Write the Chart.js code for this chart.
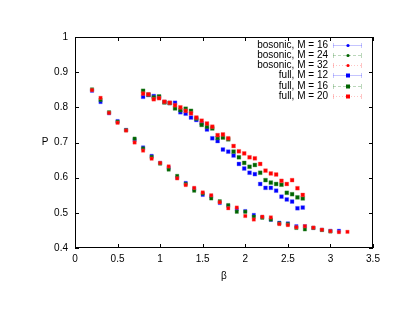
<!DOCTYPE html>
<html>
<head>
<meta charset="utf-8">
<script src="https://cdn.jsdelivr.net/npm/chart.js@4.4.1/dist/chart.umd.min.js"></script>
<style>
  html, body { margin: 0; padding: 0; background: #fff; }
  #wrap { width: 403px; height: 311px; }
</style>
</head>
<body>
<div id="wrap"><canvas id="chart" width="403" height="311"></canvas></div>
<script>
// bosonic runs, beta step 0.1
const betaBosonic = [0.2, 0.3, 0.4, 0.5, 0.6, 0.7, 0.8, 0.9, 1.0, 1.1, 1.2, 1.3, 1.4, 1.5, 1.6,
    1.7, 1.8, 1.9, 2.0, 2.1, 2.2, 2.3, 2.4, 2.5, 2.6, 2.7, 2.8, 2.9, 3.0, 3.1, 3.2];
const bosonicM16 = [0.847, 0.815, 0.783, 0.761, 0.736, 0.707, 0.686, 0.662, 0.642, 0.628, 0.600,
    0.585, 0.568, 0.551, 0.547, 0.528, 0.520, 0.510, 0.505, 0.494, 0.488, 0.480, 0.472, 0.470,
    0.462, 0.462, 0.457, 0.452, 0.449, 0.449, null];
const bosonicM24 = [0.851, 0.821, 0.786, 0.759, 0.735, 0.711, 0.683, 0.659, 0.640, 0.623, 0.605,
    0.582, 0.563, 0.555, 0.541, 0.533, 0.522, 0.503, 0.503, 0.489, 0.486, 0.481, 0.470, 0.468,
    0.457, 0.453, 0.457, 0.451, 0.447, null, null];
const bosonicM32 = [0.849, 0.827, 0.784, 0.756, 0.734, 0.700, 0.677, 0.654, 0.642, 0.632, 0.598,
    0.579, 0.571, 0.558, 0.550, 0.530, 0.513, 0.515, 0.491, 0.481, 0.489, 0.487, 0.468, 0.465,
    0.459, 0.462, 0.458, 0.452, 0.448, 0.445, 0.446];

// full runs, beta step 0.0625
const betaFull = [0.8, 0.8625, 0.925, 0.9875, 1.05, 1.1125, 1.175, 1.2375, 1.3, 1.3625, 1.425,
    1.4875, 1.55, 1.6125, 1.675, 1.7375, 1.8, 1.8625, 1.925, 1.9875, 2.05, 2.1125, 2.175, 2.2375,
    2.3, 2.3625, 2.425, 2.4875, 2.55, 2.6125, 2.675];
const fullM12 = [0.830, 0.835, 0.832, 0.829, 0.815, 0.812, 0.813, 0.786, 0.782, 0.771, 0.764,
    0.755, 0.737, 0.712, 0.704, 0.680, 0.674, 0.663, 0.639, 0.626, 0.614, 0.610, 0.582, 0.571,
    0.571, 0.563, 0.546, 0.538, 0.532, 0.513, 0.515];
const fullM16 = [0.847, 0.836, 0.828, 0.831, 0.814, 0.812, 0.797, 0.792, 0.796, 0.790, 0.768,
    0.750, 0.745, 0.740, 0.713, 0.714, 0.709, 0.674, 0.658, 0.642, 0.631, 0.636, 0.614, 0.593,
    0.586, 0.582, 0.580, 0.557, 0.553, 0.544, 0.541];
const fullM20 = [0.839, 0.837, 0.823, 0.826, 0.816, 0.813, 0.806, 0.800, 0.790, 0.783, 0.771,
    0.762, 0.754, 0.745, 0.721, 0.723, 0.712, 0.690, 0.675, 0.669, 0.658, 0.655, 0.639, 0.620,
    0.612, 0.609, 0.591, 0.582, 0.593, 0.570, 0.551];

const xTicks = [0, 0.5, 1, 1.5, 2, 2.5, 3, 3.5];
const yTicks = [0.4, 0.5, 0.6, 0.7, 0.8, 0.9, 1];

const FONT = "'Liberation Sans', Arial, sans-serif";
const BLUE = '#0000ff', GREEN = '#006400', RED = '#ff0000';
const halo = { [BLUE]: 'rgba(90,90,255,0.35)', [GREEN]: 'rgba(60,140,60,0.35)', [RED]: 'rgba(255,90,90,0.35)' };

const toPoints = (xs, ys) => xs.map((x, i) => ({ x, y: ys[i] })).filter(p => p.y !== null);

const series = [
    { label: 'bosonic, M = 16', xs: betaBosonic, ys: bosonicM16, color: BLUE, r: 2.4, dash: [], mark: 'circle' },
    { label: 'bosonic, M = 24', xs: betaBosonic, ys: bosonicM24, color: GREEN, r: 2.4, dash: [3, 2], mark: 'circle' },
    { label: 'bosonic, M = 32', xs: betaBosonic, ys: bosonicM32, color: RED, r: 2.4, dash: [1, 2], mark: 'circle' },
    { label: 'full, M = 12', xs: betaFull, ys: fullM12, color: BLUE, r: 2.7, dash: [], mark: 'rect' },
    { label: 'full, M = 16', xs: betaFull, ys: fullM16, color: GREEN, r: 2.7, dash: [3, 2], mark: 'rect' },
    { label: 'full, M = 20', xs: betaFull, ys: fullM20, color: RED, r: 2.7, dash: [1, 2], mark: 'rect' },
];

// frame, inward ticks on all sides, axis titles and the gnuplot-like key
const gnuplotFrame = {
    id: 'gnuplotFrame',
    afterDraw(chart) {
        const { ctx, chartArea: a, scales } = chart;
        ctx.save();
        ctx.strokeStyle = '#000';
        ctx.lineWidth = 1;
        ctx.strokeRect(Math.round(a.left) + 0.5, Math.round(a.top) + 0.5,
            Math.round(a.right - a.left) - 1, Math.round(a.bottom - a.top) - 1);
        ctx.beginPath();
        xTicks.forEach(v => {
            const px = Math.round(scales.x.getPixelForValue(v)) + 0.5;
            ctx.moveTo(px, a.bottom); ctx.lineTo(px, a.bottom - 4);
            ctx.moveTo(px, a.top); ctx.lineTo(px, a.top + 4);
        });
        yTicks.forEach(v => {
            const py = Math.round(scales.y.getPixelForValue(v)) + 0.5;
            ctx.moveTo(a.left, py); ctx.lineTo(a.left + 4, py);
            ctx.moveTo(a.right, py); ctx.lineTo(a.right - 4, py);
        });
        ctx.stroke();

        ctx.fillStyle = '#000';
        ctx.font = '10px ' + FONT;
        ctx.textAlign = 'center';
        ctx.textBaseline = 'middle';
        ctx.fillText('β', (a.left + a.right) / 2, 276);
        ctx.fillText('P', 45, (a.top + a.bottom) / 2);

        // key
        series.forEach((s, i) => {
            const y = Math.round(45 + i * 10.15) + 0.5;
            ctx.fillStyle = '#000';
            ctx.textAlign = 'right';
            ctx.fillText(s.label, 328, y);
            ctx.strokeStyle = halo[s.color];
            ctx.setLineDash(s.dash);
            ctx.beginPath();
            ctx.moveTo(333, y); ctx.lineTo(362, y);
            ctx.stroke();
            ctx.setLineDash([]);
            ctx.beginPath();
            ctx.moveTo(333.5, y - 2.5); ctx.lineTo(333.5, y + 2.5);
            ctx.moveTo(361.5, y - 2.5); ctx.lineTo(361.5, y + 2.5);
            ctx.stroke();
            ctx.fillStyle = s.color;
            if (s.mark === 'rect') ctx.fillRect(346, y - 2, 4, 4);
            else { ctx.beginPath(); ctx.arc(348, y, 1.6, 0, Math.PI * 2); ctx.fill(); }
        });
        ctx.restore();
    },
};

const datasets = series.map((s, i) => ({
    label: s.label,
    data: toPoints(s.xs, s.ys),
    showLine: false,
    pointStyle: 'rect',
    pointRadius: s.r,
    pointBackgroundColor: s.color,
    pointBorderColor: halo[s.color],
    pointBorderWidth: 1,
    order: series.length - i,
}));

new Chart(document.getElementById('chart'), {
    type: 'scatter',
    data: { datasets },
    options: {
        responsive: false,
        animation: false,
        events: [],
        layout: { padding: { left: 0, top: 37, right: 30, bottom: 0 } },
        plugins: { legend: { display: false }, tooltip: { enabled: false } },
        scales: {
            x: {
                type: 'linear', min: 0, max: 3.5,
                afterFit: scale => { scale.height = 63; },
                afterBuildTicks: scale => { scale.ticks = xTicks.map(value => ({ value })); },
                grid: { display: false, drawTicks: false },
                border: { display: false },
                ticks: {
                    padding: 5, color: '#000', maxRotation: 0,
                    font: { family: FONT, size: 10 },
                    callback: v => String(Math.round(v * 10) / 10),
                },
            },
            y: {
                type: 'linear', min: 0.4, max: 1,
                afterFit: scale => { scale.width = 75; },
                afterBuildTicks: scale => { scale.ticks = yTicks.map(value => ({ value })); },
                grid: { display: false, drawTicks: false },
                border: { display: false },
                ticks: {
                    padding: 7, color: '#000',
                    font: { family: FONT, size: 10 },
                    callback: v => String(Math.round(v * 10) / 10),
                },
            },
        },
    },
    plugins: [gnuplotFrame],
});
</script>
</body>
</html>
